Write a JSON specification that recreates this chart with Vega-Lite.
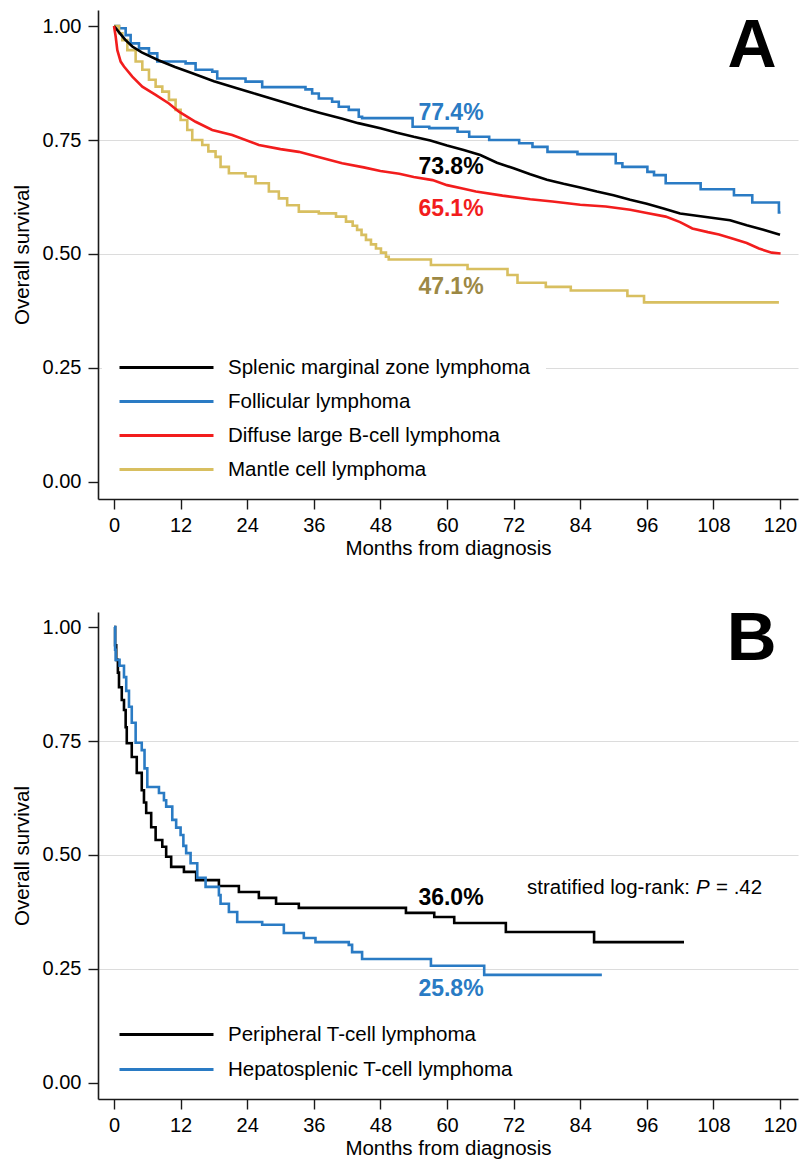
{
  "$schema": "https://vega.github.io/schema/vega-lite/v6.json",
  "background": "white",
  "padding": {"left": 12, "top": 10, "right": 2, "bottom": 0},
  "bounds": "flush",
  "spacing": 113,
  "config": {
    "view": {"stroke": null},
    "font": "Liberation Sans",
    "axis": {
      "labelFont": "Liberation Sans", "titleFont": "Liberation Sans",
      "labelFontSize": 20, "titleFontSize": 20.5, "titleFontWeight": "normal",
      "labelColor": "#000000", "titleColor": "#000000",
      "domainColor": "#1a1a1a", "domainWidth": 1.6,
      "tickColor": "#1a1a1a", "tickWidth": 1.4, "tickSize": 10
    }
  },
  "datasets": {
    "A": [
      {"group": "Splenic marginal zone lymphoma", "month": 0, "surv": 1},
      {"group": "Splenic marginal zone lymphoma", "month": 1, "surv": 0.985},
      {"group": "Splenic marginal zone lymphoma", "month": 2, "surv": 0.97},
      {"group": "Splenic marginal zone lymphoma", "month": 3.3, "surv": 0.955},
      {"group": "Splenic marginal zone lymphoma", "month": 5, "surv": 0.942},
      {"group": "Splenic marginal zone lymphoma", "month": 8, "surv": 0.925},
      {"group": "Splenic marginal zone lymphoma", "month": 11, "surv": 0.91},
      {"group": "Splenic marginal zone lymphoma", "month": 14, "surv": 0.897},
      {"group": "Splenic marginal zone lymphoma", "month": 18, "surv": 0.879},
      {"group": "Splenic marginal zone lymphoma", "month": 22, "surv": 0.864},
      {"group": "Splenic marginal zone lymphoma", "month": 25, "surv": 0.853},
      {"group": "Splenic marginal zone lymphoma", "month": 28, "surv": 0.842},
      {"group": "Splenic marginal zone lymphoma", "month": 31, "surv": 0.831},
      {"group": "Splenic marginal zone lymphoma", "month": 34, "surv": 0.82},
      {"group": "Splenic marginal zone lymphoma", "month": 37, "surv": 0.81},
      {"group": "Splenic marginal zone lymphoma", "month": 41, "surv": 0.797},
      {"group": "Splenic marginal zone lymphoma", "month": 44, "surv": 0.787},
      {"group": "Splenic marginal zone lymphoma", "month": 48, "surv": 0.776},
      {"group": "Splenic marginal zone lymphoma", "month": 51, "surv": 0.766},
      {"group": "Splenic marginal zone lymphoma", "month": 54, "surv": 0.757},
      {"group": "Splenic marginal zone lymphoma", "month": 57, "surv": 0.749},
      {"group": "Splenic marginal zone lymphoma", "month": 60, "surv": 0.738},
      {"group": "Splenic marginal zone lymphoma", "month": 63, "surv": 0.728},
      {"group": "Splenic marginal zone lymphoma", "month": 66, "surv": 0.717},
      {"group": "Splenic marginal zone lymphoma", "month": 69, "surv": 0.7},
      {"group": "Splenic marginal zone lymphoma", "month": 72, "surv": 0.688},
      {"group": "Splenic marginal zone lymphoma", "month": 75, "surv": 0.675},
      {"group": "Splenic marginal zone lymphoma", "month": 78, "surv": 0.663},
      {"group": "Splenic marginal zone lymphoma", "month": 81, "surv": 0.654},
      {"group": "Splenic marginal zone lymphoma", "month": 84, "surv": 0.646},
      {"group": "Splenic marginal zone lymphoma", "month": 87, "surv": 0.637},
      {"group": "Splenic marginal zone lymphoma", "month": 90, "surv": 0.629},
      {"group": "Splenic marginal zone lymphoma", "month": 93, "surv": 0.619},
      {"group": "Splenic marginal zone lymphoma", "month": 96, "surv": 0.61},
      {"group": "Splenic marginal zone lymphoma", "month": 99, "surv": 0.6},
      {"group": "Splenic marginal zone lymphoma", "month": 102, "surv": 0.589},
      {"group": "Splenic marginal zone lymphoma", "month": 105, "surv": 0.584},
      {"group": "Splenic marginal zone lymphoma", "month": 108, "surv": 0.579},
      {"group": "Splenic marginal zone lymphoma", "month": 111, "surv": 0.574},
      {"group": "Splenic marginal zone lymphoma", "month": 114, "surv": 0.563},
      {"group": "Splenic marginal zone lymphoma", "month": 117, "surv": 0.553},
      {"group": "Splenic marginal zone lymphoma", "month": 120, "surv": 0.542},

      {"group": "Diffuse large B-cell lymphoma", "month": 0, "surv": 1},
      {"group": "Diffuse large B-cell lymphoma", "month": 0.3, "surv": 0.977},
      {"group": "Diffuse large B-cell lymphoma", "month": 0.6, "surv": 0.947},
      {"group": "Diffuse large B-cell lymphoma", "month": 1.2, "surv": 0.922},
      {"group": "Diffuse large B-cell lymphoma", "month": 1.8, "surv": 0.911},
      {"group": "Diffuse large B-cell lymphoma", "month": 3.3, "surv": 0.889},
      {"group": "Diffuse large B-cell lymphoma", "month": 5.1, "surv": 0.867},
      {"group": "Diffuse large B-cell lymphoma", "month": 7.5, "surv": 0.849},
      {"group": "Diffuse large B-cell lymphoma", "month": 9.9, "surv": 0.83},
      {"group": "Diffuse large B-cell lymphoma", "month": 11.7, "surv": 0.812},
      {"group": "Diffuse large B-cell lymphoma", "month": 14.7, "surv": 0.79},
      {"group": "Diffuse large B-cell lymphoma", "month": 17.7, "surv": 0.772},
      {"group": "Diffuse large B-cell lymphoma", "month": 21.3, "surv": 0.761},
      {"group": "Diffuse large B-cell lymphoma", "month": 26.1, "surv": 0.739},
      {"group": "Diffuse large B-cell lymphoma", "month": 30, "surv": 0.73},
      {"group": "Diffuse large B-cell lymphoma", "month": 33.3, "surv": 0.724},
      {"group": "Diffuse large B-cell lymphoma", "month": 37, "surv": 0.712},
      {"group": "Diffuse large B-cell lymphoma", "month": 41.1, "surv": 0.699},
      {"group": "Diffuse large B-cell lymphoma", "month": 45, "surv": 0.69},
      {"group": "Diffuse large B-cell lymphoma", "month": 48, "surv": 0.682},
      {"group": "Diffuse large B-cell lymphoma", "month": 51.4, "surv": 0.676},
      {"group": "Diffuse large B-cell lymphoma", "month": 54, "surv": 0.669},
      {"group": "Diffuse large B-cell lymphoma", "month": 57.4, "surv": 0.662},
      {"group": "Diffuse large B-cell lymphoma", "month": 60, "surv": 0.651},
      {"group": "Diffuse large B-cell lymphoma", "month": 63, "surv": 0.643},
      {"group": "Diffuse large B-cell lymphoma", "month": 65.2, "surv": 0.637},
      {"group": "Diffuse large B-cell lymphoma", "month": 70, "surv": 0.628},
      {"group": "Diffuse large B-cell lymphoma", "month": 75, "surv": 0.62},
      {"group": "Diffuse large B-cell lymphoma", "month": 79, "surv": 0.615},
      {"group": "Diffuse large B-cell lymphoma", "month": 84, "surv": 0.608},
      {"group": "Diffuse large B-cell lymphoma", "month": 88.6, "surv": 0.604},
      {"group": "Diffuse large B-cell lymphoma", "month": 93, "surv": 0.597},
      {"group": "Diffuse large B-cell lymphoma", "month": 96, "surv": 0.59},
      {"group": "Diffuse large B-cell lymphoma", "month": 99.4, "surv": 0.582},
      {"group": "Diffuse large B-cell lymphoma", "month": 102, "surv": 0.57},
      {"group": "Diffuse large B-cell lymphoma", "month": 104.2, "surv": 0.556},
      {"group": "Diffuse large B-cell lymphoma", "month": 107, "surv": 0.548},
      {"group": "Diffuse large B-cell lymphoma", "month": 109, "surv": 0.543},
      {"group": "Diffuse large B-cell lymphoma", "month": 111.4, "surv": 0.534},
      {"group": "Diffuse large B-cell lymphoma", "month": 114, "surv": 0.524},
      {"group": "Diffuse large B-cell lymphoma", "month": 116.2, "surv": 0.512},
      {"group": "Diffuse large B-cell lymphoma", "month": 118.5, "surv": 0.503},
      {"group": "Diffuse large B-cell lymphoma", "month": 120.1, "surv": 0.501},

      {"group": "Follicular lymphoma", "month": 0, "surv": 1},
      {"group": "Follicular lymphoma", "month": 0.9, "surv": 0.995},
      {"group": "Follicular lymphoma", "month": 2.1, "surv": 0.98},
      {"group": "Follicular lymphoma", "month": 3, "surv": 0.962},
      {"group": "Follicular lymphoma", "month": 4.5, "surv": 0.951},
      {"group": "Follicular lymphoma", "month": 6.3, "surv": 0.94},
      {"group": "Follicular lymphoma", "month": 7.8, "surv": 0.922},
      {"group": "Follicular lymphoma", "month": 12.9, "surv": 0.918},
      {"group": "Follicular lymphoma", "month": 14.7, "surv": 0.904},
      {"group": "Follicular lymphoma", "month": 17.7, "surv": 0.9},
      {"group": "Follicular lymphoma", "month": 18.6, "surv": 0.885},
      {"group": "Follicular lymphoma", "month": 23.7, "surv": 0.878},
      {"group": "Follicular lymphoma", "month": 26.7, "surv": 0.866},
      {"group": "Follicular lymphoma", "month": 34.5, "surv": 0.861},
      {"group": "Follicular lymphoma", "month": 35.7, "surv": 0.852},
      {"group": "Follicular lymphoma", "month": 36.9, "surv": 0.841},
      {"group": "Follicular lymphoma", "month": 39.3, "surv": 0.834},
      {"group": "Follicular lymphoma", "month": 40.5, "surv": 0.823},
      {"group": "Follicular lymphoma", "month": 42.3, "surv": 0.816},
      {"group": "Follicular lymphoma", "month": 44.1, "surv": 0.801},
      {"group": "Follicular lymphoma", "month": 44.7, "surv": 0.798},
      {"group": "Follicular lymphoma", "month": 53.8, "surv": 0.779},
      {"group": "Follicular lymphoma", "month": 56.8, "surv": 0.776},
      {"group": "Follicular lymphoma", "month": 61.9, "surv": 0.768},
      {"group": "Follicular lymphoma", "month": 64, "surv": 0.757},
      {"group": "Follicular lymphoma", "month": 67.6, "surv": 0.75},
      {"group": "Follicular lymphoma", "month": 73, "surv": 0.743},
      {"group": "Follicular lymphoma", "month": 75.4, "surv": 0.735},
      {"group": "Follicular lymphoma", "month": 78.1, "surv": 0.724},
      {"group": "Follicular lymphoma", "month": 83.5, "surv": 0.719},
      {"group": "Follicular lymphoma", "month": 90.4, "surv": 0.699},
      {"group": "Follicular lymphoma", "month": 91.6, "surv": 0.691},
      {"group": "Follicular lymphoma", "month": 96.1, "surv": 0.68},
      {"group": "Follicular lymphoma", "month": 97.3, "surv": 0.673},
      {"group": "Follicular lymphoma", "month": 99.4, "surv": 0.655},
      {"group": "Follicular lymphoma", "month": 105.7, "surv": 0.642},
      {"group": "Follicular lymphoma", "month": 111.7, "surv": 0.629},
      {"group": "Follicular lymphoma", "month": 115, "surv": 0.613},
      {"group": "Follicular lymphoma", "month": 119.8, "surv": 0.591},
      {"group": "Follicular lymphoma", "month": 120.1, "surv": 0.591},

      {"group": "Mantle cell lymphoma", "month": 0, "surv": 1},
      {"group": "Mantle cell lymphoma", "month": 0.9, "surv": 0.984},
      {"group": "Mantle cell lymphoma", "month": 1.5, "surv": 0.969},
      {"group": "Mantle cell lymphoma", "month": 2.4, "surv": 0.947},
      {"group": "Mantle cell lymphoma", "month": 3.9, "surv": 0.922},
      {"group": "Mantle cell lymphoma", "month": 5.1, "surv": 0.904},
      {"group": "Mantle cell lymphoma", "month": 6.3, "surv": 0.882},
      {"group": "Mantle cell lymphoma", "month": 7.5, "surv": 0.867},
      {"group": "Mantle cell lymphoma", "month": 8.7, "surv": 0.856},
      {"group": "Mantle cell lymphoma", "month": 9.9, "surv": 0.838},
      {"group": "Mantle cell lymphoma", "month": 11.1, "surv": 0.816},
      {"group": "Mantle cell lymphoma", "month": 12, "surv": 0.794},
      {"group": "Mantle cell lymphoma", "month": 13.2, "surv": 0.772},
      {"group": "Mantle cell lymphoma", "month": 14.1, "surv": 0.75},
      {"group": "Mantle cell lymphoma", "month": 15.9, "surv": 0.739},
      {"group": "Mantle cell lymphoma", "month": 17, "surv": 0.725},
      {"group": "Mantle cell lymphoma", "month": 18.3, "surv": 0.713},
      {"group": "Mantle cell lymphoma", "month": 19.2, "surv": 0.691},
      {"group": "Mantle cell lymphoma", "month": 20.7, "surv": 0.677},
      {"group": "Mantle cell lymphoma", "month": 23.7, "surv": 0.67},
      {"group": "Mantle cell lymphoma", "month": 25.5, "surv": 0.655},
      {"group": "Mantle cell lymphoma", "month": 27.9, "surv": 0.637},
      {"group": "Mantle cell lymphoma", "month": 29.7, "surv": 0.622},
      {"group": "Mantle cell lymphoma", "month": 31.2, "surv": 0.607},
      {"group": "Mantle cell lymphoma", "month": 33.3, "surv": 0.593},
      {"group": "Mantle cell lymphoma", "month": 36.9, "surv": 0.589},
      {"group": "Mantle cell lymphoma", "month": 40, "surv": 0.582},
      {"group": "Mantle cell lymphoma", "month": 41.8, "surv": 0.571},
      {"group": "Mantle cell lymphoma", "month": 43, "surv": 0.562},
      {"group": "Mantle cell lymphoma", "month": 43.8, "surv": 0.553},
      {"group": "Mantle cell lymphoma", "month": 44.6, "surv": 0.542},
      {"group": "Mantle cell lymphoma", "month": 45.4, "surv": 0.531},
      {"group": "Mantle cell lymphoma", "month": 46.3, "surv": 0.521},
      {"group": "Mantle cell lymphoma", "month": 47.2, "surv": 0.512},
      {"group": "Mantle cell lymphoma", "month": 48.1, "surv": 0.503},
      {"group": "Mantle cell lymphoma", "month": 49, "surv": 0.494},
      {"group": "Mantle cell lymphoma", "month": 49.5, "surv": 0.488},
      {"group": "Mantle cell lymphoma", "month": 57.1, "surv": 0.476},
      {"group": "Mantle cell lymphoma", "month": 63.7, "surv": 0.467},
      {"group": "Mantle cell lymphoma", "month": 70.9, "surv": 0.454},
      {"group": "Mantle cell lymphoma", "month": 72.7, "surv": 0.437},
      {"group": "Mantle cell lymphoma", "month": 77.8, "surv": 0.428},
      {"group": "Mantle cell lymphoma", "month": 82.3, "surv": 0.42},
      {"group": "Mantle cell lymphoma", "month": 92.5, "surv": 0.408},
      {"group": "Mantle cell lymphoma", "month": 95.5, "surv": 0.394},
      {"group": "Mantle cell lymphoma", "month": 119.8, "surv": 0.394}
    ],
    "B": [
      {"group": "Peripheral T-cell lymphoma", "month": 0, "surv": 1},
      {"group": "Peripheral T-cell lymphoma", "month": 0.2, "surv": 0.96},
      {"group": "Peripheral T-cell lymphoma", "month": 0.4, "surv": 0.928},
      {"group": "Peripheral T-cell lymphoma", "month": 0.7, "surv": 0.9},
      {"group": "Peripheral T-cell lymphoma", "month": 0.9, "surv": 0.868},
      {"group": "Peripheral T-cell lymphoma", "month": 1.4, "surv": 0.84},
      {"group": "Peripheral T-cell lymphoma", "month": 1.8, "surv": 0.818},
      {"group": "Peripheral T-cell lymphoma", "month": 2.1, "surv": 0.78},
      {"group": "Peripheral T-cell lymphoma", "month": 2.3, "surv": 0.745},
      {"group": "Peripheral T-cell lymphoma", "month": 3.2, "surv": 0.715},
      {"group": "Peripheral T-cell lymphoma", "month": 4.1, "surv": 0.68},
      {"group": "Peripheral T-cell lymphoma", "month": 5, "surv": 0.642},
      {"group": "Peripheral T-cell lymphoma", "month": 5.4, "surv": 0.615},
      {"group": "Peripheral T-cell lymphoma", "month": 5.8, "surv": 0.592},
      {"group": "Peripheral T-cell lymphoma", "month": 6.7, "surv": 0.561},
      {"group": "Peripheral T-cell lymphoma", "month": 7.5, "surv": 0.533},
      {"group": "Peripheral T-cell lymphoma", "month": 8.7, "surv": 0.518},
      {"group": "Peripheral T-cell lymphoma", "month": 9.4, "surv": 0.496},
      {"group": "Peripheral T-cell lymphoma", "month": 10.3, "surv": 0.474},
      {"group": "Peripheral T-cell lymphoma", "month": 12.6, "surv": 0.463},
      {"group": "Peripheral T-cell lymphoma", "month": 14.8, "surv": 0.445},
      {"group": "Peripheral T-cell lymphoma", "month": 18.9, "surv": 0.432},
      {"group": "Peripheral T-cell lymphoma", "month": 22.5, "surv": 0.419},
      {"group": "Peripheral T-cell lymphoma", "month": 26.1, "surv": 0.406},
      {"group": "Peripheral T-cell lymphoma", "month": 29.2, "surv": 0.393},
      {"group": "Peripheral T-cell lymphoma", "month": 33.3, "surv": 0.384},
      {"group": "Peripheral T-cell lymphoma", "month": 52.6, "surv": 0.373},
      {"group": "Peripheral T-cell lymphoma", "month": 57.7, "surv": 0.364},
      {"group": "Peripheral T-cell lymphoma", "month": 61.3, "surv": 0.351},
      {"group": "Peripheral T-cell lymphoma", "month": 70.6, "surv": 0.331},
      {"group": "Peripheral T-cell lymphoma", "month": 86.5, "surv": 0.309},
      {"group": "Peripheral T-cell lymphoma", "month": 102.7, "surv": 0.309},

      {"group": "Hepatosplenic T-cell lymphoma", "month": 0, "surv": 1},
      {"group": "Hepatosplenic T-cell lymphoma", "month": 0.2, "surv": 0.95},
      {"group": "Hepatosplenic T-cell lymphoma", "month": 0.3, "surv": 0.928},
      {"group": "Hepatosplenic T-cell lymphoma", "month": 1, "surv": 0.915},
      {"group": "Hepatosplenic T-cell lymphoma", "month": 1.8, "surv": 0.89},
      {"group": "Hepatosplenic T-cell lymphoma", "month": 2.2, "surv": 0.86},
      {"group": "Hepatosplenic T-cell lymphoma", "month": 2.7, "surv": 0.825},
      {"group": "Hepatosplenic T-cell lymphoma", "month": 3.2, "surv": 0.79},
      {"group": "Hepatosplenic T-cell lymphoma", "month": 3.9, "surv": 0.746},
      {"group": "Hepatosplenic T-cell lymphoma", "month": 5, "surv": 0.73},
      {"group": "Hepatosplenic T-cell lymphoma", "month": 5.5, "surv": 0.69},
      {"group": "Hepatosplenic T-cell lymphoma", "month": 6, "surv": 0.649},
      {"group": "Hepatosplenic T-cell lymphoma", "month": 8.1, "surv": 0.636},
      {"group": "Hepatosplenic T-cell lymphoma", "month": 9, "surv": 0.62},
      {"group": "Hepatosplenic T-cell lymphoma", "month": 9.4, "surv": 0.606},
      {"group": "Hepatosplenic T-cell lymphoma", "month": 10.5, "surv": 0.577},
      {"group": "Hepatosplenic T-cell lymphoma", "month": 11.2, "surv": 0.56},
      {"group": "Hepatosplenic T-cell lymphoma", "month": 12, "surv": 0.544},
      {"group": "Hepatosplenic T-cell lymphoma", "month": 12.5, "surv": 0.52},
      {"group": "Hepatosplenic T-cell lymphoma", "month": 13, "surv": 0.504},
      {"group": "Hepatosplenic T-cell lymphoma", "month": 13.8, "surv": 0.482},
      {"group": "Hepatosplenic T-cell lymphoma", "month": 15, "surv": 0.45},
      {"group": "Hepatosplenic T-cell lymphoma", "month": 16.5, "surv": 0.43},
      {"group": "Hepatosplenic T-cell lymphoma", "month": 18.9, "surv": 0.412},
      {"group": "Hepatosplenic T-cell lymphoma", "month": 19.2, "surv": 0.393},
      {"group": "Hepatosplenic T-cell lymphoma", "month": 20.7, "surv": 0.375},
      {"group": "Hepatosplenic T-cell lymphoma", "month": 22.2, "surv": 0.353},
      {"group": "Hepatosplenic T-cell lymphoma", "month": 26.7, "surv": 0.347},
      {"group": "Hepatosplenic T-cell lymphoma", "month": 30.6, "surv": 0.329},
      {"group": "Hepatosplenic T-cell lymphoma", "month": 34.2, "surv": 0.318},
      {"group": "Hepatosplenic T-cell lymphoma", "month": 36.3, "surv": 0.309},
      {"group": "Hepatosplenic T-cell lymphoma", "month": 42.3, "surv": 0.303},
      {"group": "Hepatosplenic T-cell lymphoma", "month": 42.9, "surv": 0.287},
      {"group": "Hepatosplenic T-cell lymphoma", "month": 44.7, "surv": 0.272},
      {"group": "Hepatosplenic T-cell lymphoma", "month": 57.1, "surv": 0.257},
      {"group": "Hepatosplenic T-cell lymphoma", "month": 66.7, "surv": 0.237},
      {"group": "Hepatosplenic T-cell lymphoma", "month": 87.9, "surv": 0.237}
    ],
    "labA": [
      {"group": "Follicular lymphoma", "month": 60, "surv": 0.774, "label": "77.4%"},
      {"group": "Splenic marginal zone lymphoma", "month": 60, "surv": 0.738, "label": "73.8%"},
      {"group": "Diffuse large B-cell lymphoma", "month": 60, "surv": 0.651, "label": "65.1%"},
      {"group": "Mantle cell lymphoma", "month": 60, "surv": 0.471, "label": "47.1%"}
    ],
    "labB": [
      {"group": "Peripheral T-cell lymphoma", "month": 60, "surv": 0.36, "label": "36.0%"},
      {"group": "Hepatosplenic T-cell lymphoma", "month": 60, "surv": 0.258, "label": "25.8%"}
    ],
    "notes": [
      {"note": "A"},
      {"note": "B"},
      {"note": "stratified log-rank:"},
      {"note": "P"},
      {"note": "= .42"}
    ]
  },
  "vconcat": [
    {
      "width": 700,
      "height": 489,
      "layer": [
        {
          "data": {"name": "A"},
          "transform": [{"filter": "datum.group == 'Mantle cell lymphoma' || datum.group == 'Follicular lymphoma'"}],
          "mark": {"type": "line", "interpolate": "step-after", "strokeWidth": 2.6},
          "encoding": {
            "x": {"field": "month", "type": "quantitative",
              "scale": {"domain": [-2.883, 123.24], "nice": false, "zero": false},
              "axis": {"values": [0, 12, 24, 36, 48, 60, 72, 84, 96, 108, 120], "title": "Months from diagnosis", "grid": false, "labelPadding": 6, "titlePadding": 3}},
            "y": {"field": "surv", "type": "quantitative",
              "scale": {"domain": [-0.0373, 1.0351], "nice": false, "zero": false},
              "axis": {"values": [0, 0.25, 0.5, 0.75, 1], "format": ".2f", "title": "Overall survival",
                "grid": true, "gridColor": "#dcdcdc", "gridWidth": 1.2,
                "gridOpacity": {"condition": {"test": "datum.value < 0.1 || datum.value > 0.9", "value": 0}, "value": 1},
                "labelPadding": 7, "titlePadding": 10}},
            "color": {"field": "group", "type": "nominal",
              "scale": {"domain": ["Splenic marginal zone lymphoma", "Follicular lymphoma", "Diffuse large B-cell lymphoma", "Mantle cell lymphoma"],
                        "range": ["#000000", "#2a7bc4", "#f21d1d", "#d8bf60"]},
              "legend": {"orient": "none", "legendX": 4, "legendY": 330, "title": null,
                "symbolType": "M-1,0H8.4", "symbolSize": 400, "symbolStrokeWidth": 3,
                "labelFont": "Liberation Sans", "labelFontSize": 20.5, "labelColor": "#000000",
                "labelOffset": 87, "padding": 16, "fillColor": "white", "rowPadding": 12, "labelLimit": 500}}
          }
        },
        {
          "data": {"name": "A"},
          "transform": [{"filter": "datum.group == 'Splenic marginal zone lymphoma' || datum.group == 'Diffuse large B-cell lymphoma'"}],
          "mark": {"type": "line", "interpolate": "linear", "strokeWidth": 2.6},
          "encoding": {
            "x": {"field": "month", "type": "quantitative"},
            "y": {"field": "surv", "type": "quantitative"},
            "color": {"field": "group", "type": "nominal",
              "scale": {"domain": ["Splenic marginal zone lymphoma", "Follicular lymphoma", "Diffuse large B-cell lymphoma", "Mantle cell lymphoma"],
                        "range": ["#000000", "#2a7bc4", "#f21d1d", "#d8bf60"]}}
          }
        },
        {
          "data": {"name": "labA"},
          "transform": [{"filter": "datum.group == 'Follicular lymphoma'"}],
          "mark": {"type": "text", "font": "Liberation Sans", "fontSize": 23, "fontWeight": "bold", "color": "#2a7bc4", "baseline": "middle", "dx": 4, "dy": -16},
          "encoding": {"x": {"field": "month", "type": "quantitative"}, "y": {"field": "surv", "type": "quantitative"}, "text": {"field": "label"}}
        },
        {
          "data": {"name": "labA"},
          "transform": [{"filter": "datum.group == 'Splenic marginal zone lymphoma'"}],
          "mark": {"type": "text", "font": "Liberation Sans", "fontSize": 23, "fontWeight": "bold", "color": "#000000", "baseline": "middle", "dx": 4, "dy": 22},
          "encoding": {"x": {"field": "month", "type": "quantitative"}, "y": {"field": "surv", "type": "quantitative"}, "text": {"field": "label"}}
        },
        {
          "data": {"name": "labA"},
          "transform": [{"filter": "datum.group == 'Diffuse large B-cell lymphoma'"}],
          "mark": {"type": "text", "font": "Liberation Sans", "fontSize": 23, "fontWeight": "bold", "color": "#f21d1d", "baseline": "middle", "dx": 4, "dy": 23.5},
          "encoding": {"x": {"field": "month", "type": "quantitative"}, "y": {"field": "surv", "type": "quantitative"}, "text": {"field": "label"}}
        },
        {
          "data": {"name": "labA"},
          "transform": [{"filter": "datum.group == 'Mantle cell lymphoma'"}],
          "mark": {"type": "text", "font": "Liberation Sans", "fontSize": 23, "fontWeight": "bold", "color": "#9c8844", "baseline": "middle", "dx": 4, "dy": 19.5},
          "encoding": {"x": {"field": "month", "type": "quantitative"}, "y": {"field": "surv", "type": "quantitative"}, "text": {"field": "label"}}
        },
        {
          "data": {"name": "notes"},
          "transform": [{"filter": "datum.note == 'A'"}],
          "mark": {"type": "text", "font": "Liberation Sans", "fontSize": 68, "fontWeight": "bold", "color": "#000000", "baseline": "alphabetic", "align": "center"},
          "encoding": {
            "x": {"datum": 114.95, "type": "quantitative"},
            "y": {"datum": 0.911, "type": "quantitative"},
            "text": {"field": "note", "type": "nominal"}
          }
        }
      ]
    },
    {
      "width": 700,
      "height": 487,
      "layer": [
        {
          "data": {"name": "B"},
          "mark": {"type": "line", "interpolate": "step-after", "strokeWidth": 2.6},
          "encoding": {
            "x": {"field": "month", "type": "quantitative",
              "scale": {"domain": [-2.883, 123.24], "nice": false, "zero": false},
              "axis": {"values": [0, 12, 24, 36, 48, 60, 72, 84, 96, 108, 120], "title": "Months from diagnosis", "grid": false, "labelPadding": 6, "titlePadding": 3}},
            "y": {"field": "surv", "type": "quantitative",
              "scale": {"domain": [-0.0351, 1.0329], "nice": false, "zero": false},
              "axis": {"values": [0, 0.25, 0.5, 0.75, 1], "format": ".2f", "title": "Overall survival",
                "grid": true, "gridColor": "#dcdcdc", "gridWidth": 1.2,
                "gridOpacity": {"condition": {"test": "datum.value < 0.1 || datum.value > 0.9", "value": 0}, "value": 1},
                "labelPadding": 7, "titlePadding": 10}},
            "color": {"field": "group", "type": "nominal",
              "scale": {"domain": ["Peripheral T-cell lymphoma", "Hepatosplenic T-cell lymphoma"],
                        "range": ["#000000", "#2a7bc4"]},
              "legend": {"orient": "none", "legendX": 4, "legendY": 395, "title": null,
                "symbolType": "M-1,0H8.4", "symbolSize": 400, "symbolStrokeWidth": 3,
                "labelFont": "Liberation Sans", "labelFontSize": 20.5, "labelColor": "#000000",
                "labelOffset": 87, "padding": 16, "fillColor": "white", "rowPadding": 13, "labelLimit": 500}}
          }
        },
        {
          "data": {"name": "labB"},
          "transform": [{"filter": "datum.group == 'Peripheral T-cell lymphoma'"}],
          "mark": {"type": "text", "font": "Liberation Sans", "fontSize": 23, "fontWeight": "bold", "color": "#000000", "baseline": "middle", "dx": 4, "dy": -20.5},
          "encoding": {"x": {"field": "month", "type": "quantitative"}, "y": {"field": "surv", "type": "quantitative"}, "text": {"field": "label"}}
        },
        {
          "data": {"name": "labB"},
          "transform": [{"filter": "datum.group == 'Hepatosplenic T-cell lymphoma'"}],
          "mark": {"type": "text", "font": "Liberation Sans", "fontSize": 23, "fontWeight": "bold", "color": "#2a7bc4", "baseline": "middle", "dx": 4, "dy": 24},
          "encoding": {"x": {"field": "month", "type": "quantitative"}, "y": {"field": "surv", "type": "quantitative"}, "text": {"field": "label"}}
        },
        {
          "data": {"name": "notes"},
          "transform": [{"filter": "datum.note == 'stratified log-rank:'"}],
          "mark": {"type": "text", "font": "Liberation Sans", "fontSize": 20.5, "color": "#000000", "baseline": "alphabetic", "align": "right", "dx": -6},
          "encoding": {
            "x": {"datum": 104.86, "type": "quantitative"},
            "y": {"datum": 0.4145, "type": "quantitative"},
            "text": {"field": "note", "type": "nominal"}
          }
        },
        {
          "data": {"name": "notes"},
          "transform": [{"filter": "datum.note == 'P'"}],
          "mark": {"type": "text", "font": "Liberation Sans", "fontSize": 20.5, "fontStyle": "italic", "color": "#000000", "baseline": "alphabetic", "align": "left"},
          "encoding": {
            "x": {"datum": 104.86, "type": "quantitative"},
            "y": {"datum": 0.4145, "type": "quantitative"},
            "text": {"field": "note", "type": "nominal"}
          }
        },
        {
          "data": {"name": "notes"},
          "transform": [{"filter": "datum.note == '= .42'"}],
          "mark": {"type": "text", "font": "Liberation Sans", "fontSize": 20.5, "color": "#000000", "baseline": "alphabetic", "align": "left", "dx": 20},
          "encoding": {
            "x": {"datum": 104.86, "type": "quantitative"},
            "y": {"datum": 0.4145, "type": "quantitative"},
            "text": {"field": "note", "type": "nominal"}
          }
        },
        {
          "data": {"name": "notes"},
          "transform": [{"filter": "datum.note == 'B'"}],
          "mark": {"type": "text", "font": "Liberation Sans", "fontSize": 69, "fontWeight": "bold", "color": "#000000", "baseline": "alphabetic", "align": "center"},
          "encoding": {
            "x": {"datum": 114.9, "type": "quantitative"},
            "y": {"datum": 0.9276, "type": "quantitative"},
            "text": {"field": "note", "type": "nominal"}
          }
        }
      ]
    }
  ],
  "resolve": {"scale": {"color": "independent", "x": "independent", "y": "independent"}, "legend": {"color": "independent"}}
}
